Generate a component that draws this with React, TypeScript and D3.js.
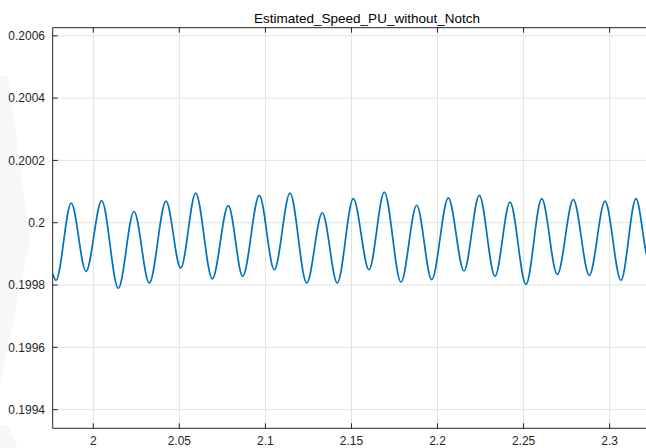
import React from "react";
import * as d3 from "d3";

const TITLE = "Estimated_Speed_PU_without_Notch";
const X_TICKS = [2, 2.05, 2.1, 2.15, 2.2, 2.25, 2.3];
const X_TICK_LABELS = ["2", "2.05", "2.1", "2.15", "2.2", "2.25", "2.3"];
const Y_TICKS = [0.1994, 0.1996, 0.1998, 0.2, 0.2002, 0.2004, 0.2006];
const Y_TICK_LABELS = ["0.1994", "0.1996", "0.1998", "0.2", "0.2002", "0.2004", "0.2006"];

// time (s) of peaks/troughs
const TIME = [
  1.97641, 1.97833, 1.98716, 1.99576, 2.00488, 2.01453, 2.02365, 2.03254,
  2.04224, 2.05078, 2.05949, 2.06914, 2.07844, 2.0868, 2.09645, 2.10516,
  2.11428, 2.12399, 2.13304, 2.14176, 2.15106, 2.16018, 2.16907, 2.17877,
  2.1879, 2.19661, 2.20626, 2.21538, 2.22427, 2.23339, 2.2421, 2.2514,
  2.26052, 2.26958, 2.27888, 2.28818, 2.2973, 2.30659, 2.31531, 2.32112,
  2.3245,
];
const SPEED = [
  0.199836, 0.199815, 0.200063, 0.199844, 0.200071, 0.199789, 0.200036, 0.199806,
  0.200069, 0.199854, 0.200095, 0.19982, 0.200055, 0.199828, 0.200088, 0.199849,
  0.200095, 0.199806, 0.200032, 0.199806, 0.200077, 0.199849, 0.200098, 0.199809,
  0.200056, 0.199817, 0.20008, 0.199845, 0.200088, 0.199828, 0.200066, 0.199802,
  0.200077, 0.199834, 0.200074, 0.199831, 0.200069, 0.199815, 0.200077, 0.199906,
  0.19983,
];

const W = 646;
const H = 448;
const LEFT = 52.7;
const RIGHT = 682;
const TOP = 27.7;
const BOTTOM = 428.3;

export default function App() {
  const x = d3.scaleLinear().domain([1.97641, 2.34204]).range([LEFT, RIGHT]);
  const y = d3.scaleLinear().domain([0.19934, 0.200626]).range([BOTTOM, TOP]);
  const pts = TIME.map((t, i) => [t, SPEED[i]] as [number, number]);
  const gen = d3
    .line<[number, number]>()
    .x((d) => x(d[0]))
    .y((d) => y(d[1]))
    .curve(d3.curveMonotoneX);
  const path = gen(pts) || "";
  const font = "'Liberation Sans', Arial, Helvetica, sans-serif";
  const axisColor = "#262626";
  const gridColor = "#e3e3e3";

  return (
    <svg
      width={W}
      height={H}
      style={{ position: "fixed", left: 0, top: 0, background: "#fff" }}
    >
      <rect x={0} y={0} width={W} height={H} fill="#fff" />
      {/* faint watermark shapes on the left */}
      <polygon points="0,76 8,76 30,240 0,385" fill="#f7f7f7" />
      <polygon points="0,425 8,425 18,448 0,448" fill="#f7f7f7" />
      <defs>
        <clipPath id="plotclip">
          <rect x={LEFT} y={TOP} width={RIGHT - LEFT} height={BOTTOM - TOP} />
        </clipPath>
      </defs>
      <rect x={LEFT} y={TOP} width={RIGHT - LEFT} height={BOTTOM - TOP} fill="#fff" />
      {/* grid */}
      <g stroke={gridColor} strokeWidth={1}>
        {X_TICKS.map((t) => (
          <line key={"gx" + t} x1={x(t)} x2={x(t)} y1={TOP} y2={BOTTOM} />
        ))}
        {Y_TICKS.map((t) => (
          <line key={"gy" + t} x1={LEFT} x2={RIGHT} y1={y(t)} y2={y(t)} />
        ))}
      </g>
      {/* data */}
      <g clipPath="url(#plotclip)">
        <path
          d={path}
          fill="none"
          stroke="#0072BD"
          strokeWidth={1.7}
          strokeLinejoin="round"
        />
      </g>
      {/* axes frame */}
      <g stroke={axisColor} strokeWidth={1} fill="none">
        <line x1={LEFT} x2={RIGHT} y1={TOP} y2={TOP} />
        <line x1={LEFT} x2={RIGHT} y1={BOTTOM} y2={BOTTOM} />
        <line x1={LEFT} x2={LEFT} y1={TOP} y2={BOTTOM} />
        {X_TICKS.map((t) => (
          <g key={"tx" + t}>
            <line x1={x(t)} x2={x(t)} y1={BOTTOM} y2={BOTTOM - 5} />
            <line x1={x(t)} x2={x(t)} y1={TOP} y2={TOP + 5} />
          </g>
        ))}
        {Y_TICKS.map((t) => (
          <line key={"ty" + t} x1={LEFT} x2={LEFT + 5} y1={y(t)} y2={y(t)} />
        ))}
      </g>
      {/* tick labels */}
      <g fontFamily={font} fontSize={12} fill={axisColor}>
        {X_TICKS.map((t, i) => (
          <text key={"lx" + t} x={x(t)} y={444.5} textAnchor="middle">
            {X_TICK_LABELS[i]}
          </text>
        ))}
        {Y_TICKS.map((t, i) => (
          <text key={"ly" + t} x={45} y={y(t) + 4.2} textAnchor="end">
            {Y_TICK_LABELS[i]}
          </text>
        ))}
      </g>
      <text
        x={367}
        y={22.5}
        textAnchor="middle"
        fontFamily={font}
        fontSize={13.5}
        fill="#000"
      >
        {TITLE}
      </text>
    </svg>
  );
}
